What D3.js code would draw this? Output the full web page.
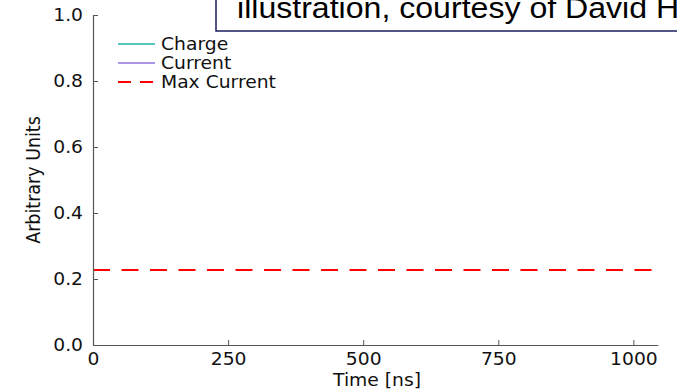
<!DOCTYPE html>
<html>
<head>
<meta charset="utf-8">
<script src="https://cdn.jsdelivr.net/npm/d3@7"></script>
<style>
  html, body { margin: 0; padding: 0; background: #fff; overflow: hidden; }
  svg { display: block; }
</style>
</head>
<body>
<svg id="chart" width="677" height="390"></svg>
<script>
// Axis ranges and ticks
const xDomain = [0, 1045];
const yDomain = [0, 1];
const xTicks = [0, 250, 500, 750, 1000];
const yTicks = [0, 0.2, 0.4, 0.6, 0.8, 1.0];

// Series shown in the legend; only the max-current level carries data here
const seriesNames = ["Charge", "Current", "Max Current"];
const seriesColors = ["#20b2aa", "#9370db", "#ff0000"];
const maxCurrentTime = [0, 1045];
const maxCurrentLevel = [0.227, 0.227];

// Annotation box text
const noteText = "illustration, courtesy of David He";

const svg = d3.select("#chart");
const W = 677, H = 390;
const m = { left: 93, right: 677 - 657.7, top: 15, bottom: 390 - 345 };

const x = d3.scaleLinear().domain(xDomain).range([m.left, W - m.right]);
const y = d3.scaleLinear().domain(yDomain).range([H - m.bottom, m.top]);

const font = "'DejaVu Sans', sans-serif";
const fs = "17.5px";
const sx = 1.07;           // slight horizontal stretch of the lettering
const axisColor = "#555";

// Max current level, dashed
const line = d3.line().x(d => x(d[0])).y(d => y(d[1]));
svg.append("path")
  .datum(maxCurrentTime.map((t, i) => [t, maxCurrentLevel[i]]))
  .attr("d", line)
  .attr("fill", "none")
  .attr("stroke", seriesColors[2])
  .attr("stroke-width", 2)
  .attr("stroke-dasharray", "17 11.5");

// Axes with inward ticks
const xAxis = d3.axisBottom(x).tickValues(xTicks).tickFormat(d3.format("d"))
  .tickSizeInner(-5).tickSizeOuter(0).tickPadding(8);
const yAxis = d3.axisLeft(y).tickValues(yTicks).tickFormat(d3.format(".1f"))
  .tickSizeInner(-5).tickSizeOuter(0).tickPadding(10 / sx);

const gx = svg.append("g").attr("transform", `translate(0,${y(0)})`).call(xAxis);
const gy = svg.append("g").attr("transform", `translate(${x(0)},0)`).call(yAxis);

[gx, gy].forEach(g => {
  g.select(".domain").attr("stroke", axisColor).attr("stroke-width", 1.2);
  g.selectAll(".tick line").attr("stroke", axisColor).attr("stroke-width", 1);
  g.selectAll(".tick text")
    .attr("fill", "#111")
    .attr("transform", `scale(${sx},1)`)
    .style("font-family", font).style("font-size", fs);
});
gx.selectAll(".tick text").attr("dy", "0.71em");

// Axis titles
svg.append("text")
  .attr("transform", `translate(377,386) scale(${sx},1)`)
  .attr("text-anchor", "middle")
  .style("font-family", font).style("font-size", fs).attr("fill", "#111")
  .text("Time [ns]");

svg.append("text")
  .attr("transform", `translate(40,${(y(0) + y(1)) / 2}) rotate(-90) scale(1,${sx})`)
  .attr("text-anchor", "middle")
  .style("font-family", font).style("font-size", fs).attr("fill", "#111")
  .text("Arbitrary Units");

// Legend
const legend = svg.append("g");
seriesNames.forEach((name, i) => {
  const ly = 44 + i * 19;
  legend.append("line")
    .attr("x1", 118).attr("x2", 155).attr("y1", ly).attr("y2", ly)
    .attr("stroke", seriesColors[i])
    .attr("stroke-width", i === 2 ? 2 : 1.3)
    .attr("stroke-dasharray", i === 2 ? "13 9" : null);
  legend.append("text")
    .attr("transform", `translate(161,${ly}) scale(${sx},1)`)
    .attr("dy", "0.35em")
    .style("font-family", font).style("font-size", fs).attr("fill", "#111")
    .text(name);
});

// Annotation box along the top edge
svg.append("rect")
  .attr("x", 216).attr("y", -40).attr("width", 520).attr("height", 71)
  .attr("fill", "#fff").attr("stroke", "#1b1f5e").attr("stroke-width", 1.5);
svg.append("text")
  .attr("transform", `translate(237,18) scale(${sx},1)`)
  .style("font-family", "'Liberation Sans', Arial, sans-serif").style("font-size", "30px").attr("fill", "#000")
  .text(noteText);
</script>
</body>
</html>
